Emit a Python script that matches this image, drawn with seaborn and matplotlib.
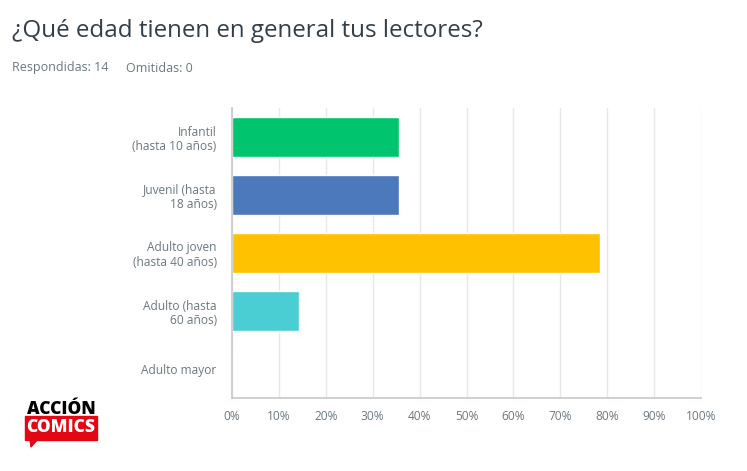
import numpy as np
import pandas as pd
import seaborn as sns
import matplotlib.pyplot as plt
from matplotlib.patches import Rectangle, Polygon

sns.set_theme(style='white')
plt.rcParams['font.family'] = ['Open Sans', 'DejaVu Sans']

# data
categories = ['Infantil\n(hasta 10 años)', 'Juvenil (hasta\n18 años)',
              'Adulto joven\n(hasta 40 años)', 'Adulto (hasta\n60 años)', 'Adulto mayor']
percent = [35.71, 35.71, 78.57, 14.29, 0.0]
colors = ['#00C46E', '#4C79BB', '#FFC100', '#4ACDD3', '#9C9C9C']
ticks = [0, 10, 20, 30, 40, 50, 60, 70, 80, 90, 100]

df = pd.DataFrame({'cat': categories, 'pct': percent})

fig = plt.figure(figsize=(7.47, 4.71), dpi=100)
ax = fig.add_axes([232 / 747, 1 - 398 / 471, 469 / 747, 290 / 471])

sns.barplot(data=df, x='pct', y='cat', hue='cat', palette=colors, legend=False,
            width=0.69, saturation=1, ax=ax)

ax.set_xlim(0, 100)
ax.set_ylim(4.5, -0.5)
ax.set_xticks(ticks)
ax.set_xticklabels([f'{t}%' for t in ticks])
ax.xaxis.grid(True, color='#E8E8E8', linewidth=1)
ax.set_axisbelow(True)
ax.set_xlabel('')
ax.set_ylabel('')
for s in ['top', 'right']:
    ax.spines[s].set_visible(False)
for s in ['left', 'bottom']:
    ax.spines[s].set_color('#C9C9C9')
ax.tick_params(axis='both', length=0, labelsize=8.6, labelcolor='#6B787F')
ax.tick_params(axis='x', pad=9)
ax.tick_params(axis='y', pad=11)
for lbl in ax.get_yticklabels():
    lbl.set_horizontalalignment('right')
    lbl.set_multialignment('right')

fig.text(12 / 747, 1 - 31 / 471, '¿Qué edad tienen en general tus lectores?',
         fontsize=17.4, color='#333E48', va='center', ha='left')
fig.text(12 / 747, 1 - 68 / 471, 'Respondidas: 14', fontsize=9, color='#6B787F',
         va='center', ha='left')
fig.text(126 / 747, 1 - 68 / 471, 'Omitidas: 0', fontsize=9, color='#6B787F',
         va='center', ha='left')

# logo
fig.patches.append(Rectangle((25 / 747, 1 - 440 / 471), 72 / 747, 24 / 471,
                             transform=fig.transFigure, color='#E30613', zorder=1))
fig.patches.append(Polygon([(30 / 747, 1 - 439 / 471), (38 / 747, 1 - 439 / 471),
                            (31 / 747, 1 - 447 / 471)],
                           transform=fig.transFigure, color='#E30613', zorder=1))
fig.text(61 / 747, 1 - 409 / 471, 'ACCIÓN', fontsize=12.5, fontweight='heavy',
         color='black', ha='center', va='center', zorder=2)
fig.text(61 / 747, 1 - 428 / 471, 'COMICS', fontsize=12.5, fontweight='heavy',
         color='white', ha='center', va='center', zorder=2)

fig.savefig('out.png', dpi=100)
